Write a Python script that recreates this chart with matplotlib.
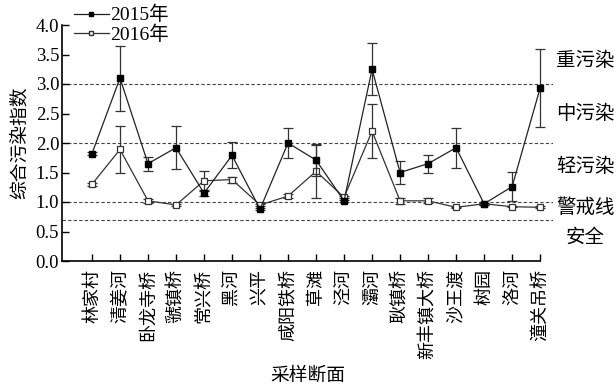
import matplotlib
matplotlib.use("Agg")
import matplotlib.pyplot as plt
from matplotlib.lines import Line2D

plt.rcParams['font.family'] = ['Liberation Serif', 'Noto Sans CJK SC']
plt.rcParams['axes.unicode_minus'] = False

sites = ['林家村', '清姜河', '卧龙寺桥', '虢镇桥', '常兴桥', '黑河', '兴平', '咸阳铁桥',
         '草滩', '泾河', '灞河', '耿镇桥', '新丰镇大桥', '沙王渡', '树园', '洛河', '潼关吊桥']

idx_2015 = [1.82, 3.10, 1.65, 1.92, 1.15, 1.79, 0.88, 2.00, 1.71, 1.02, 3.25, 1.50, 1.65, 1.92, 0.97, 1.26, 2.93]
err_2015 = [0.02, 0.55, 0.12, 0.36, 0.04, 0.22, 0.02, 0.25, 0.27, 0.02, 0.44, 0.20, 0.15, 0.34, 0.02, 0.25, 0.66]

idx_2016 = [1.30, 1.89, 1.02, 0.95, 1.36, 1.38, 0.95, 1.10, 1.52, 1.08, 2.20, 1.02, 1.02, 0.91, 0.97, 0.92, 0.91]
err_2016 = [0.03, 0.39, 0.03, 0.02, 0.16, 0.05, 0.02, 0.03, 0.45, 0.02, 0.46, 0.05, 0.04, 0.01, 0.02, 0.01, 0.02]

grade_levels = [3.0, 2.0, 1.0, 0.7]
grade_names = ['重污染', '中污染', '轻污染', '警戒线', '安全']
grade_label_y = [3.4, 2.5, 1.6, 0.9, 0.41]

yticks = [0.0, 0.5, 1.0, 1.5, 2.0, 2.5, 3.0, 3.5, 4.0]

fig = plt.figure(figsize=(6.16, 3.90), dpi=100)
ax = fig.add_axes([62 / 616, 129 / 390, 491 / 616, 236 / 390])

x = list(range(len(sites)))
xmin, xmax = -1.07, 16.46

for lv in grade_levels:
    ax.axhline(lv, color='#444444', lw=0.8, ls=(0, (3, 2)), zorder=1)

ax.errorbar(x, idx_2016, yerr=err_2016, color='#333333', lw=0.9, marker='s', ms=4,
            mfc='white', mec='#333333', mew=0.9, ecolor='#333333', elinewidth=0.9,
            capsize=3.5, capthick=0.9, zorder=3)
ax.errorbar(x, idx_2015, yerr=err_2015, color='#222222', lw=0.9, marker='s', ms=4,
            mfc='black', mec='black', ecolor='#333333', elinewidth=0.9,
            capsize=3.5, capthick=0.9, zorder=4)

ax.set_xlim(xmin, xmax)
ax.set_ylim(0, 4.0)
ax.spines['top'].set_visible(False)
ax.spines['right'].set_visible(False)
ax.spines['bottom'].set_bounds(xmin, len(sites) - 1)
for s in ('left', 'bottom'):
    ax.spines[s].set_linewidth(1.2)

ax.set_yticks(yticks)
ax.set_yticklabels([f'{v:.1f}' for v in yticks], fontsize=13.5)
ax.set_xticks(x)
ax.set_xticklabels(sites, rotation=90, fontsize=13, family='Noto Sans CJK SC')
ax.tick_params(direction='in', length=5, width=1.0, pad=2)
ax.tick_params(axis='x', pad=6)

for name, yy in zip(grade_names, grade_label_y):
    ax.text(17.62, yy, name, ha='center', va='center', fontsize=14,
            family='Noto Sans CJK SC', clip_on=False)

ax.set_ylabel('综合污染指数', fontsize=13.5, family='Noto Sans CJK SC', labelpad=4)
ax.set_xlabel('采样断面', fontsize=13.5, family='Noto Sans CJK SC', labelpad=4)

legend_handles = [
    Line2D([], [], color='#222222', lw=0.9, marker='s', ms=3, mfc='black', mec='black'),
    Line2D([], [], color='#333333', lw=0.9, marker='s', ms=3, mfc='white', mec='#333333'),
]
ax.legend(legend_handles, ['2015年', '2016年'], loc='upper left', bbox_to_anchor=(0.0, 1.13),
          frameon=False, fontsize=14, handlelength=1.8, handletextpad=0.1,
          labelspacing=0.05, borderaxespad=0.2)

fig.savefig('out.png', dpi=100)
